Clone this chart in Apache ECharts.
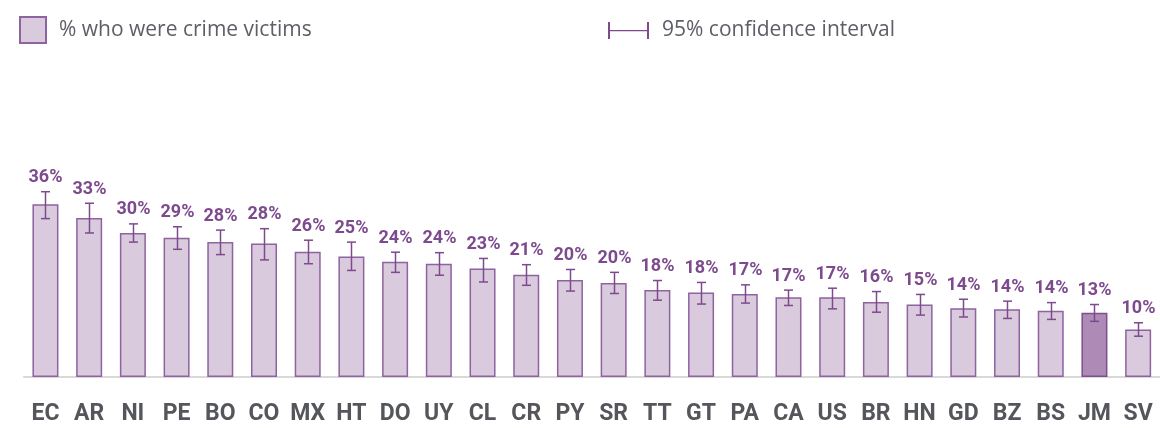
<!DOCTYPE html>
<html>
<head>
<meta charset="utf-8">
<script src="https://cdn.jsdelivr.net/npm/echarts@6/dist/echarts.min.js"></script>
<style>
  html, body { margin: 0; padding: 0; background: #fff; }
  #chart { width: 1160px; height: 428px; }
</style>
</head>
<body>
<div id="chart"></div>
<script>
// countries, sorted by share of crime victims
const countries = ["EC", "AR", "NI", "PE", "BO", "CO", "MX", "HT", "DO", "UY", "CL", "CR", "PY",
  "SR", "TT", "GT", "PA", "CA", "US", "BR", "HN", "GD", "BZ", "BS", "JM", "SV"];
// % who were crime victims
const victims = [36.0, 33.1, 30.0, 29.0, 28.1, 27.8, 26.1, 25.1, 24.0, 23.6, 22.6, 21.3, 20.2,
  19.6, 18.1, 17.6, 17.3, 16.6, 16.6, 15.6, 15.1, 14.3, 14.1, 13.8, 13.4, 9.9];
// 95% confidence interval bounds
const ciLow = [33.0, 30.0, 28.1, 26.6, 25.5, 24.4, 23.6, 22.2, 21.8, 21.2, 19.8, 19.1, 17.9,
  17.4, 16.0, 15.2, 15.4, 14.9, 14.2, 13.5, 12.9, 12.5, 12.2, 12.0, 11.6, 8.5];
const ciHigh = [38.6, 36.2, 31.9, 31.3, 30.6, 30.9, 28.5, 28.1, 26.0, 25.9, 24.7, 23.4, 22.4,
  21.8, 20.1, 19.7, 19.2, 18.1, 18.5, 17.8, 17.2, 16.2, 15.8, 15.5, 15.1, 11.3];
const highlighted = "JM";

const PURPLE = "#7d4a8e";
const BAR_FILL = "#d9cadd";
const BAR_BORDER = "#8f62a0";
const HIGHLIGHT_FILL = "#ad8bb6";
const LEGEND_TEXT = { color: "#5d5e66", fontSize: 21, fontFamily: "Open Sans", padding: [0, 0, 0, 8] };

const chart = echarts.init(document.getElementById("chart"));

const option = {
  animation: false,
  legend: [
    {
      data: ["% who were crime victims"],
      left: 14, top: 11,
      itemWidth: 26, itemHeight: 26,
      icon: "rect",
      textStyle: LEGEND_TEXT,
      selectedMode: false
    },
    {
      data: ["95% confidence interval"],
      left: 603, top: 15,
      itemWidth: 41, itemHeight: 17,
      icon: "path://M0,0h2v17h-2z M39,0h2v17h-2z M2,8h37v1.3h-37z",
      textStyle: LEGEND_TEXT,
      selectedMode: false
    }
  ],
  grid: { left: 23.6, top: 185, width: 1139.8, height: 192, containLabel: false },
  xAxis: {
    type: "category",
    data: countries,
    axisTick: { show: false },
    axisLine: { lineStyle: { color: "#cdcdcd", width: 1.5 } },
    axisLabel: {
      color: "#55565c", fontSize: 23, fontWeight: "bold", fontFamily: "Roboto",
      margin: 26, interval: 0
    }
  },
  yAxis: { type: "value", min: 0, max: 40, show: false, splitLine: { show: false } },
  series: [
    {
      name: "% who were crime victims",
      type: "bar",
      barWidth: 26,
      itemStyle: { color: BAR_FILL, borderColor: BAR_BORDER, borderWidth: 1.5 },
      data: victims.map((v, i) => countries[i] === highlighted
        ? { value: v, itemStyle: { color: HIGHLIGHT_FILL, borderColor: "#7d4f8e" } }
        : v)
    },
    {
      name: "95% confidence interval",
      type: "custom",
      itemStyle: { color: PURPLE },
      z: 5,
      data: countries.map((c, i) => [i, ciLow[i], ciHigh[i], victims[i]]),
      renderItem: function (params, api) {
        const lo = api.coord([api.value(0), api.value(1)]);
        const hi = api.coord([api.value(0), api.value(2)]);
        const x = Math.round(lo[0]) + 0.5;
        const cap = 4.5;
        const lineStyle = { stroke: PURPLE, lineWidth: 1.5 };
        return {
          type: "group",
          children: [
            { type: "line", shape: { x1: x, y1: hi[1], x2: x, y2: lo[1] }, style: lineStyle },
            { type: "line", shape: { x1: x - cap, y1: hi[1], x2: x + cap, y2: hi[1] }, style: lineStyle },
            { type: "line", shape: { x1: x - cap, y1: lo[1], x2: x + cap, y2: lo[1] }, style: lineStyle },
            {
              type: "text",
              style: {
                x: x, y: hi[1] - 5,
                text: Math.round(api.value(3)) + "%",
                align: "center", verticalAlign: "bottom",
                fill: PURPLE,
                font: "bold 18px Roboto"
              }
            }
          ]
        };
      }
    }
  ]
};

chart.setOption(option);
</script>
</body>
</html>
